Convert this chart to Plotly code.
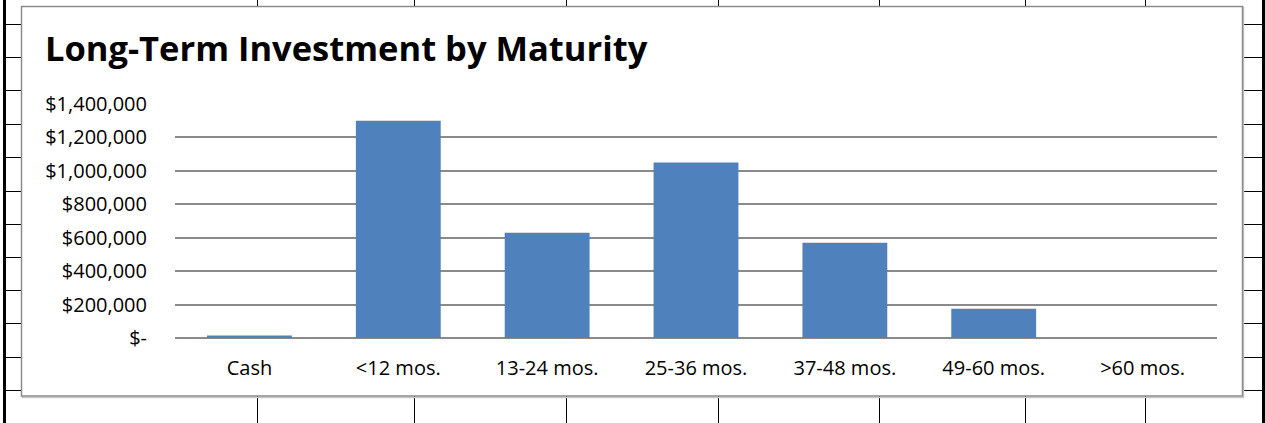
import plotly.graph_objects as go

# ---- data ----
categories = ["Cash", "<12 mos.", "13-24 mos.", "25-36 mos.", "37-48 mos.", "49-60 mos.", ">60 mos."]
amounts = [15000, 1300000, 630000, 1050000, 570000, 175000, 0]
tick_values = [0, 200000, 400000, 600000, 800000, 1000000, 1200000, 1400000]
tick_labels = ["$-", "$200,000", "$400,000", "$600,000", "$800,000",
               "$1,000,000", "$1,200,000", "$1,400,000"]
title_text = "Long-Term Investment by Maturity"

# ---- layout geometry (pixels) ----
W, H = 1265, 423
Y_TOP = 1406000
PL, PR, PB = 175, 1217, 338
PT = PB - Y_TOP * (234 / 1400000)


def px(x):
    return (x - PL) / (PR - PL)


def py(y):
    return (PB - y) / (PB - PT)


shapes = []


def seg(x0, y0, x1, y1, color="black", width=1):
    shapes.append(dict(type="line", xref="paper", yref="paper",
                       x0=px(x0), y0=py(y0), x1=px(x1), y1=py(y1),
                       line=dict(color=color, width=width), layer="below"))


# spreadsheet background lines
row_lines = [24, 57, 90, 124, 157, 191, 224, 257, 290, 323, 357, 390]
col_lines = [257, 414, 566, 718, 879, 1025, 1145]
seg(4.5, 0, 4.5, H, width=3)
seg(1263.5, 0, 1263.5, H, width=3)
for y in row_lines:
    seg(6, y + 0.5, 21, y + 0.5)
    seg(1243, y + 0.5, 1262, y + 0.5)
for x in col_lines:
    seg(x + 0.5, 0, x + 0.5, 6)
    seg(x + 0.5, 396, x + 0.5, H)

# chart frame (with faint shadow)
shapes.append(dict(type="rect", xref="paper", yref="paper",
                   x0=px(22.5), y0=py(397.5), x1=px(1243.5), y1=py(7.5),
                   line=dict(color="#c8c8c8", width=1.5), fillcolor="rgba(0,0,0,0)",
                   layer="below"))
shapes.append(dict(type="rect", xref="paper", yref="paper",
                   x0=px(21.5), y0=py(396), x1=px(1242.5), y1=py(6.5),
                   line=dict(color="#8c8c8c", width=1.5), fillcolor="white",
                   layer="below"))

fig = go.Figure(go.Bar(
    x=categories, y=amounts,
    marker=dict(color="#4F81BD", line=dict(width=0)),
    width=0.57,
))

fig.update_layout(
    width=W, height=H,
    margin=dict(l=PL, r=W - PR, t=PT, b=H - PB, pad=0),
    paper_bgcolor="white",
    plot_bgcolor="rgba(0,0,0,0)",
    showlegend=False,
    shapes=shapes,
    font=dict(family="Open Sans, sans-serif", color="black", size=20),
    annotations=[dict(text="<b>" + title_text + "</b>", xref="paper", yref="paper",
                      x=px(43), y=py(47), xanchor="left", yanchor="middle",
                      showarrow=False,
                      font=dict(family="Open Sans, sans-serif", size=34.5, color="black"))],
)
fig.update_yaxes(range=[0, Y_TOP], tickvals=tick_values, ticktext=tick_labels,
                 showgrid=True, gridcolor="#8a8a8a", gridwidth=1.5,
                 zeroline=True, zerolinecolor="#8a8a8a", zerolinewidth=1.5,
                 showline=False, ticks="", ticklabelstandoff=27,
                 tickfont=dict(size=20), fixedrange=True)
fig.update_xaxes(showgrid=False, showline=False, ticks="", ticklabelstandoff=16,
                 tickfont=dict(size=20), fixedrange=True)

fig.write_html("out.html", config={"displayModeBar": False},
               post_script="document.body.style.margin='0';document.body.style.padding='0';")
